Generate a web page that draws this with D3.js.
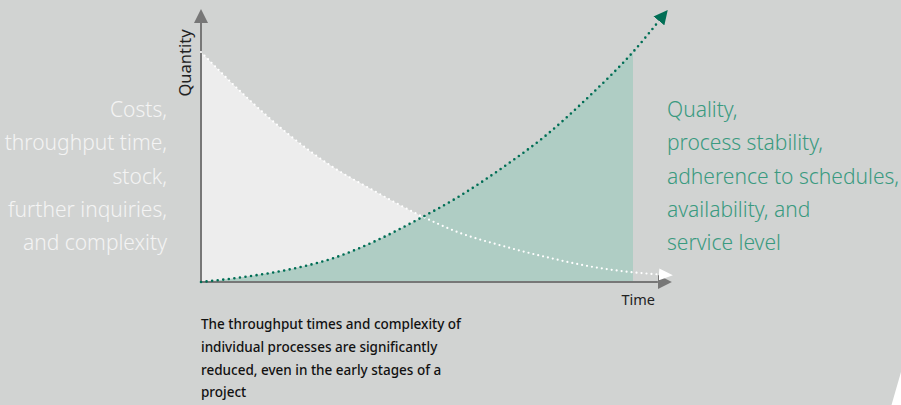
<!DOCTYPE html>
<html><head><meta charset="utf-8">
<script src="https://cdn.jsdelivr.net/npm/d3@7"></script>
<style>
html,body{margin:0;padding:0;background:#d1d3d2;}
svg{display:block;}
text{font-family:"Noto Sans",Roboto,sans-serif;}
</style></head>
<body>
<svg id="c" width="901" height="405"></svg>
<script>
// ---- data ----
const times = [0, 1, 2, 3, 4, 5, 6, 7, 8, 9, 10, 10.6];
const decreasing = [100, 81.3, 64.6, 50.6, 39.7, 29.6, 21.3, 15.6, 10.8, 6.8, 4.2, 3.3];
const increasing = [0, 2.2, 5.3, 10, 17.5, 27, 37.5, 50, 64, 81, 100, 113.5];
const fillEnd = 10;
const axisMaxT = 10.9, axisMaxV = 118.7;
const leftLabels = ["Costs,", "throughput time,", "stock,", "further inquiries,", "and complexity"];
const rightLabels = ["Quality,", "process stability,", "adherence to schedules,", "availability, and", "service level"];
const caption = ["The throughput times and complexity of", "individual processes are significantly", "reduced, even in the early stages of a", "project"];
const xLabel = "Time", yLabel = "Quantity";

const svg = d3.select("#c");
const x = d3.scaleLinear().domain([0, 10]).range([201, 633]);
const y = d3.scaleLinear().domain([0, 100]).range([282, 52]);

const dec = times.map((t, i) => ({t, v: decreasing[i]}));
const inc = times.map((t, i) => ({t, v: increasing[i]}));

const defs = svg.append("defs");
function marker(id, color, w, h) {
  defs.append("marker").attr("id", id).attr("viewBox", `0 0 ${w} ${h}`)
    .attr("refX", 0).attr("refY", h / 2).attr("markerWidth", w).attr("markerHeight", h)
    .attr("markerUnits", "userSpaceOnUse").attr("orient", "auto")
    .append("path").attr("d", `M0,0L${w},${h/2}L0,${h}Z`).attr("fill", color);
}
marker("mg", "#006e55", 14, 14);
marker("mw", "#ffffff", 14, 12);
marker("ma", "#777777", 14, 14);

const area = d3.area().x(d => x(d.t)).y0(y(0)).y1(d => y(d.v)).curve(d3.curveMonotoneX);
const line = d3.line().x(d => x(d.t)).y(d => y(d.v)).curve(d3.curveMonotoneX);

svg.append("path").datum(dec.filter(d => d.t <= fillEnd)).attr("d", area).attr("fill", "#ededed");
svg.append("path").datum(inc.filter(d => d.t <= fillEnd)).attr("d", area).attr("fill", "#afcdc4");

// axes
svg.append("line").attr("x1", x(0)).attr("y1", y(0)).attr("x2", x(axisMaxT) - 14).attr("y2", y(0))
  .attr("stroke", "#777").attr("stroke-width", 2).attr("marker-end", "url(#ma)");
svg.append("line").attr("x1", x(0)).attr("y1", y(0) + 1).attr("x2", x(0)).attr("y2", y(axisMaxV) + 14)
  .attr("stroke", "#777").attr("stroke-width", 2).attr("marker-end", "url(#ma)");

svg.append("path").datum(dec).attr("d", line).attr("fill", "none").attr("stroke", "#fff")
  .attr("stroke-width", 2.2).attr("stroke-linecap", "round").attr("stroke-dasharray", "0 5")
  .attr("marker-end", "url(#mw)");
svg.append("path").datum(inc).attr("d", line).attr("fill", "none").attr("stroke", "#006e55")
  .attr("stroke-width", 2.6).attr("stroke-linecap", "round").attr("stroke-dasharray", "0 5.6")
  .attr("marker-end", "url(#mg)");

// axis labels
svg.append("text").attr("transform", "translate(191,63) rotate(-90)").attr("text-anchor", "middle")
  .style("font-size", "16.5px").attr("fill", "#222").text(yLabel);
svg.append("text").attr("x", 655).attr("y", 305).attr("text-anchor", "end")
  .style("font-size", "14.5px").attr("fill", "#222").text(xLabel);

// side labels
svg.append("g").selectAll("text").data(leftLabels).join("text")
  .attr("x", 167).attr("y", (d, i) => 116.7 + i * 33.4).attr("text-anchor", "end")
  .style("font-size", "21px").style("font-weight", 300).attr("fill", "#f4f4f4").text(d => d);
svg.append("g").selectAll("text").data(rightLabels).join("text")
  .attr("x", 667).attr("y", (d, i) => 116.7 + i * 33.4)
  .style("font-size", "21px").style("font-weight", 300).attr("fill", "#3a9a80").text(d => d);

// caption
svg.append("g").selectAll("text").data(caption).join("text")
  .attr("x", 201).attr("y", (d, i) => 329.3 + i * 22.6)
  .style("font-size", "13.5px").style("font-weight", 500).attr("fill", "#111").text(d => d);

// corner wedge
svg.append("path").attr("d", "M901,372L901,405L891.5,405Z").attr("fill", "#fff");
</script>
</body></html>
